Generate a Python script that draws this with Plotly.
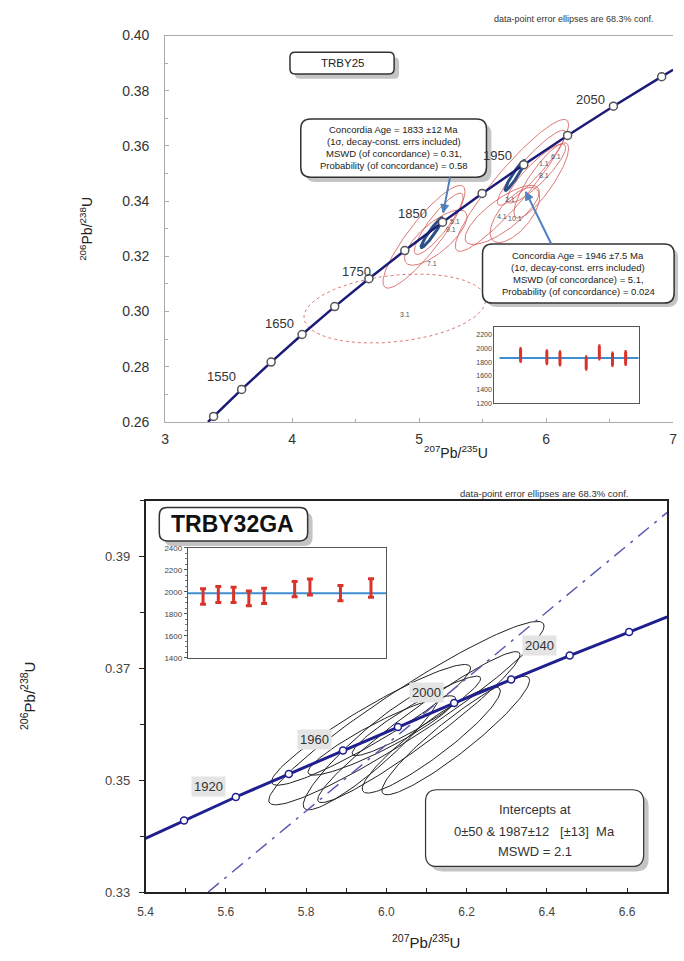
import numpy as np
import plotly.graph_objects as go

W, H = 684, 961
FONT = "Liberation Sans, Arial, sans-serif"

# ---------------- data: top chart (TRBY25) ----------------
top_ages = [1500, 1550, 1600, 1650, 1700, 1750, 1800, 1850, 1900, 1950, 2000, 2050, 2100]
top_x = [3.381, 3.602, 3.834, 4.078, 4.335, 4.604, 4.887, 5.184, 5.496, 5.824, 6.169, 6.530, 6.910]
top_y = [0.2620, 0.2718, 0.2817, 0.2917, 0.3018, 0.3119, 0.3221, 0.3324, 0.3428, 0.3532, 0.3638, 0.3744, 0.3851]
top_line_start = (3.337, 0.260)
top_line_end = (7.0, 0.3876)
top_age_labels = ["1550", "1650", "1750", "1850", "1950", "2050"]
top_age_label_x = [3.44, 3.90, 4.51, 4.95, 5.62, 6.35]
top_age_label_y = [0.2764, 0.2957, 0.3146, 0.3357, 0.3564, 0.3768]

top_ell_cx = [4.808, 5.038, 5.154, 5.131, 5.731, 5.654, 5.754, 5.885, 5.923, 5.962]
top_ell_cy = [0.3011, 0.3271, 0.3318, 0.3268, 0.3457, 0.3350, 0.3350, 0.3521, 0.3500, 0.3475]
top_ell_sx = [0.715, 0.323, 0.192, 0.246, 0.446, 0.292, 0.195, 0.269, 0.231, 0.215]
top_ell_sy = [0.0125, 0.0186, 0.0111, 0.0100, 0.0239, 0.0107, 0.0100, 0.0136, 0.0107, 0.0136]
top_ell_rho = [0.25, 0.88, 0.88, 0.75, 0.92, 0.78, 0.65, 0.92, 0.88, 0.85]

top_pt_labels = ["3.1", "7.1", "5.1", "9.1", "2.1", "4.1", "10.1", "6.1", "1.1", "8.1"]
top_pt_label_x = [4.892, 5.100, 5.285, 5.254, 5.715, 5.654, 5.754, 6.077, 5.985, 5.985]
top_pt_label_y = [0.2989, 0.3175, 0.3325, 0.3296, 0.3407, 0.3343, 0.3336, 0.3561, 0.3536, 0.3493]

conc_cx = [5.100, 5.754]
conc_cy = [0.3286, 0.3493]
conc_sx = [0.085, 0.077]
conc_sy = [0.0054, 0.0054]
conc_rho = [0.95, 0.95]

top_inset_idx = [2, 4, 5, 7, 8, 9, 10]
top_inset_hi = [2000, 1967, 1953, 1881, 2039, 1933, 1957]
top_inset_lo = [1810, 1776, 1761, 1696, 1847, 1753, 1767]
top_inset_mean = 1862
top_inset_yticks = [1200, 1400, 1600, 1800, 2000, 2200]

# ---------------- data: bottom chart (TRBY32GA) ----------------
bot_ages = [1900, 1920, 1940, 1960, 1980, 2000, 2020, 2040, 2060]
bot_x = [5.496, 5.625, 5.757, 5.892, 6.029, 6.169, 6.311, 6.457, 6.605]
bot_y = [0.3428, 0.3470, 0.3511, 0.3553, 0.3595, 0.3638, 0.3680, 0.3723, 0.3765]
bot_line_start = (5.4, 0.3396)
bot_line_end = (6.7, 0.3792)
bot_age_labels = ["1920", "1960", "2000", "2040"]
bot_age_label_x = [5.557, 5.822, 6.099, 6.382]
bot_age_label_y = [0.3489, 0.3572, 0.3657, 0.3741]
discordia_x = [5.556, 6.70]
discordia_y = [0.330, 0.3979]

bot_ell_cx = [6.050, 5.962, 5.965, 6.081, 6.112, 5.989, 6.075, 6.173]
bot_ell_cy = [0.3620, 0.3599, 0.3557, 0.3595, 0.3572, 0.3580, 0.3615, 0.3580]
bot_ell_sx = [0.343, 0.248, 0.172, 0.252, 0.172, 0.184, 0.160, 0.184]
bot_ell_sy = [0.0164, 0.0108, 0.0110, 0.0135, 0.0095, 0.0071, 0.0071, 0.0106]
bot_ell_rho = [0.95, 0.94, 0.92, 0.96, 0.92, 0.92, 0.94, 0.93]

bot_inset_idx = [1, 2, 3, 4, 5, 7, 8, 10, 12]
bot_inset_hi = [2028, 2049, 2043, 2009, 2034, 2095, 2117, 2058, 2120]
bot_inset_lo = [1889, 1905, 1905, 1874, 1895, 1957, 1972, 1920, 1951]
bot_inset_mean = 1987
bot_inset_yticks = [1400, 1600, 1800, 2000, 2200, 2400]


def px(x):
    return x / W


def py(y):
    return 1 - y / H


def ellipse(cx, cy, sx, sy, rho, n=140):
    t = np.linspace(0, 2 * np.pi, n)
    ex = cx + sx * np.cos(t)
    ey = cy + sy * (rho * np.cos(t) + np.sqrt(1 - rho ** 2) * np.sin(t))
    return ex, ey


def rrect(x0, y0, x1, y1, r):
    pts = [
        ("M", [(x0 + r, y0)]),
        ("L", [(x1 - r, y0)]),
        ("Q", [(x1, y0), (x1, y0 + r)]),
        ("L", [(x1, y1 - r)]),
        ("Q", [(x1, y1), (x1 - r, y1)]),
        ("L", [(x0 + r, y1)]),
        ("Q", [(x0, y1), (x0, y1 - r)]),
        ("L", [(x0, y0 + r)]),
        ("Q", [(x0, y0), (x0 + r, y0)]),
    ]
    s = ""
    for cmd, p in pts:
        s += cmd + " ".join(f"{px(a):.5f},{py(b):.5f}" for a, b in p) + " "
    return s + "Z"


fig = go.Figure()

# ---- top main ----
for i in range(len(top_ell_cx)):
    ex, ey = ellipse(top_ell_cx[i], top_ell_cy[i], top_ell_sx[i], top_ell_sy[i], top_ell_rho[i])
    fig.add_trace(go.Scatter(x=ex, y=ey, mode="lines", xaxis="x", yaxis="y",
                             line=dict(color="rgba(214,96,96,0.85)", width=1,
                                       dash="dot" if i == 0 else "solid"),
                             hoverinfo="skip", showlegend=False))
for i in range(len(conc_cx)):
    ex, ey = ellipse(conc_cx[i], conc_cy[i], conc_sx[i], conc_sy[i], conc_rho[i])
    fig.add_trace(go.Scatter(x=ex, y=ey, mode="lines", xaxis="x", yaxis="y",
                             line=dict(color="#2b4f86", width=3),
                             hoverinfo="skip", showlegend=False))
fig.add_trace(go.Scatter(x=[top_line_start[0]] + top_x + [top_line_end[0]],
                         y=[top_line_start[1]] + top_y + [top_line_end[1]],
                         mode="lines", xaxis="x", yaxis="y",
                         line=dict(color="#1c1c78", width=2.5), showlegend=False))
fig.add_trace(go.Scatter(x=top_x, y=top_y, mode="markers", xaxis="x", yaxis="y",
                         marker=dict(size=8, color="white", line=dict(color="#555", width=1.5)),
                         text=[str(a) for a in top_ages], showlegend=False))

# ---- top inset ----
fig.add_trace(go.Scatter(x=[0.4, 11], y=[top_inset_mean] * 2, mode="lines", xaxis="x2", yaxis="y2",
                         line=dict(color="#3d8fd1", width=2), showlegend=False))
mid = [(a + b) / 2 for a, b in zip(top_inset_hi, top_inset_lo)]
fig.add_trace(go.Scatter(x=top_inset_idx, y=mid, mode="markers", xaxis="x2", yaxis="y2",
                         marker=dict(size=1, opacity=0),
                         error_y=dict(type="data", symmetric=False,
                                      array=[h - m for h, m in zip(top_inset_hi, mid)],
                                      arrayminus=[m - l for m, l in zip(mid, top_inset_lo)],
                                      color="#d9342b", thickness=3, width=1),
                         showlegend=False))

# ---- bottom main ----
for i in range(len(bot_ell_cx)):
    ex, ey = ellipse(bot_ell_cx[i], bot_ell_cy[i], bot_ell_sx[i], bot_ell_sy[i], bot_ell_rho[i])
    fig.add_trace(go.Scatter(x=ex, y=ey, mode="lines", xaxis="x3", yaxis="y3",
                             line=dict(color="#222", width=1), hoverinfo="skip", showlegend=False))
fig.add_trace(go.Scatter(x=discordia_x, y=discordia_y, mode="lines", xaxis="x3", yaxis="y3",
                         line=dict(color="#5a5ab0", width=1.5, dash="14px,7px,3px,7px"), showlegend=False))
fig.add_trace(go.Scatter(x=[bot_line_start[0]] + bot_x + [bot_line_end[0]],
                         y=[bot_line_start[1]] + bot_y + [bot_line_end[1]],
                         mode="lines", xaxis="x3", yaxis="y3",
                         line=dict(color="#1f1f8f", width=3), showlegend=False))
fig.add_trace(go.Scatter(x=bot_x, y=bot_y, mode="markers", xaxis="x3", yaxis="y3",
                         marker=dict(size=7, color="white", line=dict(color="#1f1f8f", width=1.5)),
                         text=[str(a) for a in bot_ages], showlegend=False))

# ---- bottom inset ----
fig.add_trace(go.Scatter(x=[0, 13], y=[bot_inset_mean] * 2, mode="lines", xaxis="x4", yaxis="y4",
                         line=dict(color="#3d8fd1", width=2), showlegend=False))
mid2 = [(a + b) / 2 for a, b in zip(bot_inset_hi, bot_inset_lo)]
fig.add_trace(go.Scatter(x=bot_inset_idx, y=mid2, mode="markers", xaxis="x4", yaxis="y4",
                         marker=dict(size=1, opacity=0),
                         error_y=dict(type="data", symmetric=False,
                                      array=[h - m for h, m in zip(bot_inset_hi, mid2)],
                                      arrayminus=[m - l for m, l in zip(mid2, bot_inset_lo)],
                                      color="#d9342b", thickness=3, width=3),
                         showlegend=False))

ann = []
shapes = []

for t, x, y in zip(top_age_labels, top_age_label_x, top_age_label_y):
    ann.append(dict(x=x, y=y, xref="x", yref="y", text=t, showarrow=False,
                    font=dict(family=FONT, size=13, color="#333")))
for t, x, y in zip(top_pt_labels, top_pt_label_x, top_pt_label_y):
    ann.append(dict(x=x, y=y, xref="x", yref="y", text=t, showarrow=False,
                    font=dict(family=FONT, size=7, color="#555")))
for t, x, y in zip(bot_age_labels, bot_age_label_x, bot_age_label_y):
    ann.append(dict(x=x, y=y, xref="x3", yref="y3", text=t, showarrow=False,
                    bgcolor="#e4e4e4", borderpad=2,
                    font=dict(family=FONT, size=13, color="#333")))


def box(x0, y0, x1, y1, r, lw=1.5, sh=5):
    shapes.append(dict(type="path", path=rrect(x0 + sh, y0 + sh, x1 + sh, y1 + sh, r),
                       xref="paper", yref="paper", fillcolor="#c4c4c4", line=dict(width=0)))
    shapes.append(dict(type="path", path=rrect(x0, y0, x1, y1, r),
                       xref="paper", yref="paper", fillcolor="white", line=dict(color="#333", width=lw)))


def ptext(x, y, t, size, color="#222", angle=0):
    ann.append(dict(x=px(x), y=py(y), xref="paper", yref="paper", text=t, showarrow=False,
                    xanchor="center", yanchor="middle", textangle=angle,
                    font=dict(family=FONT, size=size, color=color)))


def arrow(tx, ty, sx_, sy_, color="#4f81bd"):
    shapes.append(dict(type="line", xref="paper", yref="paper",
                       x0=px(sx_), y0=py(sy_), x1=px(tx), y1=py(ty),
                       line=dict(color=color, width=2)))
    d = np.array([tx - sx_, ty - sy_], dtype=float)
    d /= np.hypot(*d)
    n = np.array([-d[1], d[0]])
    L, w = 8, 4
    b = np.array([tx, ty]) - d * L
    p1 = b + n * w
    p2 = b - n * w
    path = (f"M{px(tx):.5f},{py(ty):.5f} L{px(p1[0]):.5f},{py(p1[1]):.5f} "
            f"L{px(p2[0]):.5f},{py(p2[1]):.5f} Z")
    shapes.append(dict(type="path", path=path, xref="paper", yref="paper",
                       fillcolor=color, line=dict(color=color, width=1)))


# top chart boxes
box(287, 45, 393, 67, 5, sh=5)
ptext(340, 56, "TRBY25", 11.5)
box(298, 113, 487, 172, 10, sh=5)
for yy, t in zip([124, 136, 148, 160], ["Concordia Age = 1833 ±12 Ma", "(1σ, decay-const. errs included)",
                                        "MSWD (of concordance) = 0.31,", "Probability (of concordance) = 0.58"]):
    ptext(392.5, yy, t, 9.5)
box(483, 240, 678, 300, 10, sh=4)
for yy, t in zip([252, 264, 276, 288], ["Concordia Age = 1946 ±7.5 Ma", "(1σ, decay-const. errs included)",
                                        "MSWD (of concordance) = 5.1,", "Probability (of concordance) = 0.024"]):
    ptext(580.5, yy, t, 9.5)
arrow(443, 208, 450, 172)
arrow(527, 187, 553, 240)

ptext(576, 11, "data-point error ellipses are 68.3% conf.", 9, "#333")
ptext(80, 225, "<sup>206</sup>Pb/<sup>238</sup>U", 14, "#222", angle=-90)
ptext(456, 452, "<sup>207</sup>Pb/<sup>235</sup>U", 14)

# bottom chart boxes
box(154, 508, 305, 542, 8, lw=1.5, sh=5)
ptext(229, 525, "<b>TRBY32GA</b>", 23, "#111")
box(425, 795, 647, 873, 12, lw=1.2, sh=5)
ptext(536, 815, "Intercepts at", 13, "#333")
ptext(536, 837, "0±50 & 1987±12 \u00a0 [±13] \u00a0Ma", 13, "#333")
ptext(536, 858, "MSWD = 2.1", 13, "#333")
ptext(546, 494, "data-point error ellipses are 68.3% conf.", 9.5, "#333")
ptext(20, 700, "<sup>206</sup>Pb/<sup>238</sup>U", 15, "#222", angle=-90)
ptext(425, 949, "<sup>207</sup>Pb/<sup>235</sup>U", 15)

tick_font = dict(family=FONT, size=14, color="#333")
fig.update_layout(
    width=W, height=H, autosize=False,
    margin=dict(l=0, r=0, t=0, b=0),
    paper_bgcolor="white", plot_bgcolor="rgba(0,0,0,0)",
    showlegend=False,
    xaxis=dict(domain=[px(160), px(677)], range=[2.9999, 7.0001], anchor="y",
               tickvals=[3, 4, 5, 6, 7], ticks="inside", ticklen=4, tickcolor="#aaa",
               minor=dict(dtick=0.5, ticks="inside", ticklen=3, tickcolor="#aaa"),
               showline=True, linecolor="#aaa", linewidth=1, mirror=True,
               showgrid=False, zeroline=False, tickfont=tick_font, ticklabelstandoff=4),
    yaxis=dict(domain=[py(421), py(28)], range=[0.26, 0.40], anchor="x",
               tickvals=[0.26, 0.28, 0.30, 0.32, 0.34, 0.36, 0.38, 0.40], tickformat=".2f",
               ticks="inside", ticklen=4, tickcolor="#aaa",
               minor=dict(dtick=0.01, ticks="inside", ticklen=3, tickcolor="#aaa"),
               showline=True, linecolor="#aaa", linewidth=1, mirror=False,
               showgrid=False, zeroline=False, tickfont=tick_font, ticklabelstandoff=12),
    xaxis2=dict(domain=[px(495), px(642)], range=[0, 11], anchor="y2",
                showticklabels=False, ticks="", showline=True, linecolor="#555", mirror=True,
                showgrid=False, zeroline=False),
    yaxis2=dict(domain=[py(402), py(324)], range=[1200, 2320], anchor="x2",
                tickvals=top_inset_yticks, ticks="", showline=True, linecolor="#555", mirror=True,
                showgrid=False, zeroline=False, tickfont=dict(family=FONT, size=7, color="#444")),
    xaxis3=dict(domain=[px(140), px(671)], range=[5.4, 6.7], anchor="y3",
                tickvals=[5.4, 5.6, 5.8, 6.0, 6.2, 6.4, 6.6], tickformat=".1f",
                ticks="inside", ticklen=4, tickcolor="#222",
                minor=dict(dtick=0.1, ticks="inside", ticklen=4, tickcolor="#222"),
                showline=True, linecolor="#222", linewidth=1.5, mirror=True,
                showgrid=False, zeroline=False, ticklabelstandoff=8,
                tickfont=dict(family=FONT, size=12, color="#444")),
    yaxis3=dict(domain=[py(899), py(501)], range=[0.33, 0.40], anchor="x3",
                tickvals=[0.33, 0.35, 0.37, 0.39], tickformat=".2f",
                ticks="outside", ticklen=5, tickcolor="#222",
                minor=dict(dtick=0.01, ticks="outside", ticklen=4, tickcolor="#222"),
                showline=True, linecolor="#222", linewidth=1.5, mirror=True,
                showgrid=False, zeroline=False, ticklabelstandoff=6,
                tickfont=dict(family=FONT, size=13, color="#444")),
    xaxis4=dict(domain=[px(183), px(385)], range=[0, 13], anchor="y4",
                showticklabels=False, ticks="", showline=True, linecolor="#555", mirror=True,
                showgrid=False, zeroline=False),
    yaxis4=dict(domain=[py(661), py(549)], range=[1400, 2400], anchor="x4",
                tickvals=bot_inset_yticks, ticks="outside", ticklen=3, tickcolor="#555",
                minor=dict(dtick=50, ticks="outside", ticklen=2, tickcolor="#777"),
                showline=True, linecolor="#555", mirror=True,
                showgrid=False, zeroline=False, tickfont=dict(family=FONT, size=8, color="#444")),
    annotations=ann,
    shapes=shapes,
)

fig.write_html("out.html", config={"displayModeBar": False},
               post_script="document.documentElement.style.overflow='hidden';document.body.style.margin='0px';document.body.style.overflow='hidden';")
